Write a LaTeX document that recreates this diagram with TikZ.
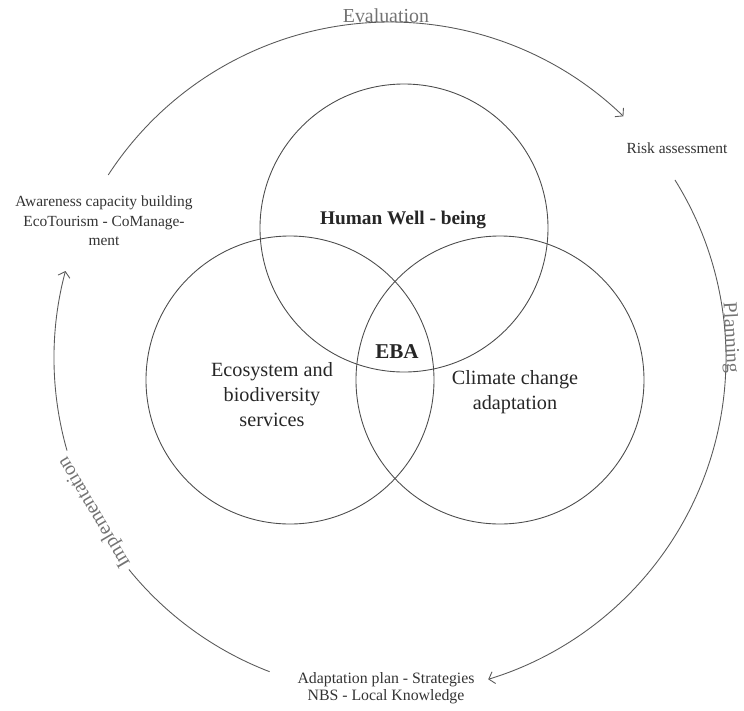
\documentclass[tikz,border=0pt]{standalone}
\usepackage{fontspec}
\setmainfont{Liberation Serif}
\usetikzlibrary{calc,
                arrows.meta}

\begin{document}
\begin{tikzpicture}[line width=0.5pt,
  >={Straight Barb[length=3pt,width=7pt]},
  ring/.style={draw=black!70},
  loop/.style={draw=black!65},
  inner/.style={font=\fontsize{11.5}{14.2}\selectfont, text=black!85, align=center},
  outer/.style={font=\fontsize{8.8}{11}\selectfont, text=black!80, align=center},
  phase/.style={font=\fontsize{11.3}{13}\selectfont, text=black!55}]
\useasboundingbox (0,0) rectangle (14.88,-14.22);

\coordinate (C) at (7.80,-7.16);
\coordinate (HW) at (8.08,-4.56);
\coordinate (ES) at (5.80,-7.60);
\coordinate (CC) at (10.00,-7.60);

% the three circles
\draw[ring] (HW) circle (2.88);
\draw[ring] (ES) circle (2.88);
\draw[ring] (CC) circle (2.88);

\node[inner, font=\bfseries\fontsize{11}{14}\selectfont] (human) at (8.06,-4.40) {Human Well - being};
\node[inner, font=\bfseries\fontsize{12}{14}\selectfont] (eba) at (7.94,-7.04) {EBA};
\node[inner] (eco) at (5.44,-7.90) {Ecosystem and\\biodiversity\\services};
\node[inner] (clim) at (10.30,-7.85) {Climate change\\adaptation};

% outer cycle
\coordinate (evalstart) at ($(C)+(147:6.72)$);
\coordinate (planstart) at ($(C)+(32:6.72)$);
\coordinate (implstart) at ($(C)+(249:6.72)$);
\coordinate (implgap) at ($(C)+(196:6.72)$);

\draw[loop,->] (evalstart) arc[start angle=147, end angle=46, radius=6.72];
\draw[loop,->] (planstart) arc[start angle=32, end angle=-73, radius=6.72];
\draw[loop] (implstart) arc[start angle=249, end angle=219, radius=6.72];
\draw[loop,->] (implgap) arc[start angle=196, end angle=165, radius=6.72];

\node[phase, anchor=base] (eval) at ($(C)+(90.7:6.72)$) {Evaluation};
\node[phase, anchor=base, rotate=-87] (plan) at ($(C)+(3.4:6.72)$) {Planning};
\node[phase, anchor=base, rotate=120.5] (impl) at ($(C)+(207.5:6.68)+(0.1,0.05)$) {Implementation};

\node[outer] (risk) at (13.54,-2.96) {Risk assessment};
\node[outer, font=\fontsize{8.8}{11.1}\selectfont] (aware) at (2.08,-4.42) {Awareness capacity building\\EcoTourism - CoManage-\\ment};
\node[outer, font=\fontsize{9}{9.7}\selectfont] (adapt) at (7.72,-13.77) {Adaptation plan - Strategies\\NBS - Local Knowledge};

\end{tikzpicture}
\end{document}
